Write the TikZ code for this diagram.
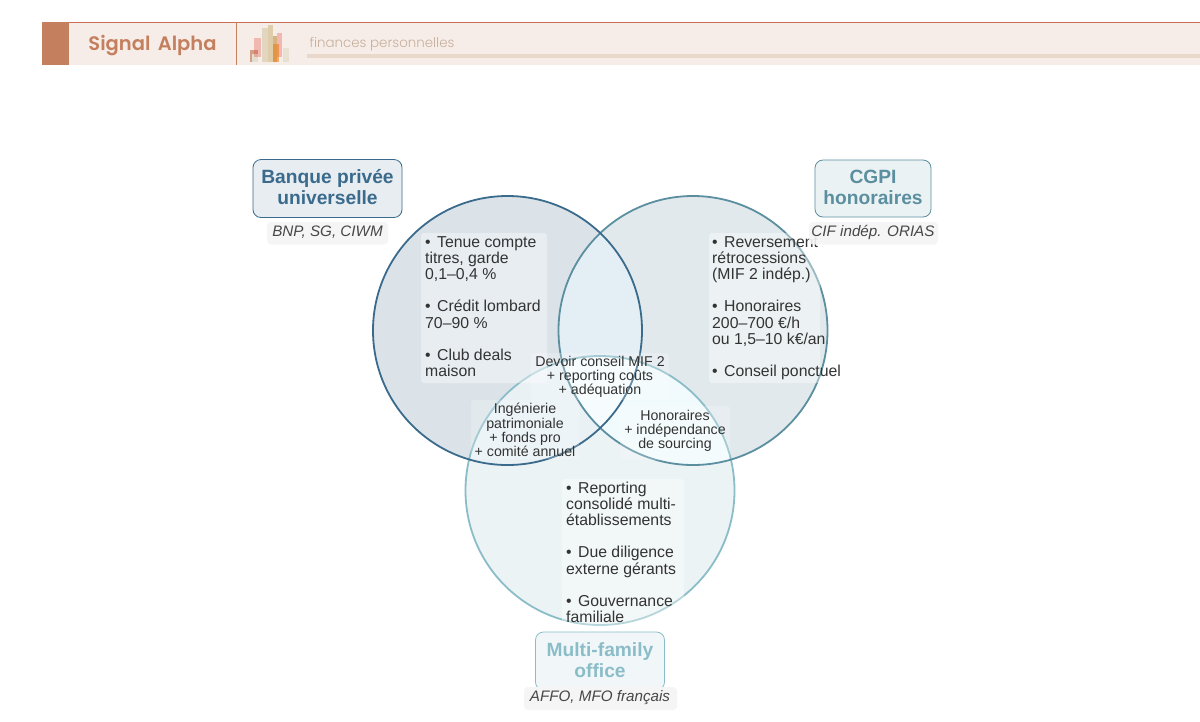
\documentclass[tikz,border=0pt]{standalone}
\usepackage{fontspec}
\setmainfont{Liberation Sans}
\newfontfamily\popp{Poppins SemiBold}[WordSpace=1.6]
\newfontfamily\poppl{Poppins Light}
\usetikzlibrary{calc}
\definecolor{cA}{HTML}{3A6B8C}
\definecolor{cB}{HTML}{5B8FA0}
\definecolor{cC}{HTML}{8BBDC8}
\definecolor{hdr}{HTML}{C47F5E}
\definecolor{hbg}{HTML}{F7EDE8}
\definecolor{txt}{HTML}{333333}
\definecolor{rA}{HTML}{DBE3E9}
\definecolor{rB}{HTML}{E1E9EC}
\definecolor{rC}{HTML}{EBF3F5}
\definecolor{rAB}{HTML}{E3EEF5}
\definecolor{rAC}{HTML}{E9F1F5}
\definecolor{rBC}{HTML}{F1FAFC}
\definecolor{rABC}{HTML}{F6FCFE}
\definecolor{tagc}{RGB}{198,176,156}
\definecolor{barc}{RGB}{232,217,202}
\definecolor{lg1}{RGB}{226,222,208}
\definecolor{lg2}{RGB}{226,214,192}
\definecolor{lg3}{RGB}{222,204,170}
\definecolor{lg4}{RGB}{214,180,130}
\definecolor{lg5}{RGB}{232,224,208}
\newcommand{\bul}{•\hspace{2pt}\space}
\tikzset{
 x=1pt,y=-1pt,
 tbox/.style={fill=white,fill opacity=.38,rounded corners=3pt,draw=none},
 mbox/.style={fill=white,fill opacity=.22,rounded corners=3pt,draw=none},
 ttl/.style={align=center,inner sep=0pt,font=\fontsize{19.2}{21}\selectfont\bfseries},
 tbx/.style={rounded corners=8pt,line width=.8pt},
 lst/.style={anchor=north west,align=left,inner sep=0pt,text=txt,font=\fontsize{15.8}{16.2}\selectfont},
 mid/.style={align=center,inner sep=0pt,text=txt,font=\fontsize{14.2}{14.2}\selectfont},
 sub/.style={inner sep=0pt,text=black!72,font=\fontsize{15.2}{16}\selectfont\itshape},
 subbg/.style={fill=black!4,rounded corners=4pt},
}
\begin{document}
\begin{tikzpicture}
\useasboundingbox (0,0) rectangle (1200,721);
\fill[white] (0,0) rectangle (1200,721);
% header
\fill[hbg] (42,22) rectangle (1200,64.5);
\draw[hdr!85!red,line width=.8pt] (42,22) -- (1200,22);
\fill[hdr] (42,22) rectangle (68.5,64.5);
\draw[hdr,line width=.8pt] (236.5,22) -- (236.5,64.5);
\node[inner sep=0pt,text=hdr,font=\popp\fontsize{19.5}{22}\selectfont] (brand) at (152.5,45.5) {Signal Alpha};
\node[inner sep=0pt,anchor=west,text=tagc,font=\poppl\fontsize{13.4}{16}\selectfont] (tag) at (309.5,44.5) {finances personnelles};
\fill[barc] (307,54) rectangle (1200,58);
% logo
\fill[hdr,opacity=.7] (250,50) rectangle (258,62);
\fill[lg1] (251.5,54) rectangle (258,62);
\fill[red!50!hdr,opacity=.3] (254,38) rectangle (261,57);
\fill[lg2] (262,28) rectangle (268,62);
\fill[lg3] (268,25) rectangle (273,62);
\fill[lg4] (273,36) rectangle (277,62);
\fill[red!50!hdr,opacity=.3] (277,33) rectangle (282,57);
\fill[orange!70!hdr,opacity=.6] (273,44) rectangle (279,62);
\fill[lg5] (283,48) rectangle (289,62);
% venn regions
\coordinate (ca) at (507.5,330.5);
\coordinate (cb) at (693,330.5);
\coordinate (cc) at (600,490.5);
\def\R{134.5}
\fill[rA] (ca) circle (\R);
\fill[rB] (cb) circle (\R);
\fill[rC] (cc) circle (\R);
\begin{scope}\clip (ca) circle (\R); \fill[rAB] (cb) circle (\R); \end{scope}
\begin{scope}\clip (ca) circle (\R); \fill[rAC] (cc) circle (\R); \end{scope}
\begin{scope}\clip (cb) circle (\R); \fill[rBC] (cc) circle (\R); \end{scope}
\begin{scope}\clip (ca) circle (\R); \clip (cb) circle (\R); \fill[rABC] (cc) circle (\R); \end{scope}
\draw[cC,line width=1.8pt] (cc) circle (\R);
\draw[cB,line width=1.8pt] (cb) circle (\R);
\draw[cA,line width=1.8pt] (ca) circle (\R);
% text backgrounds
\path[tbox] (421,233) rectangle (547,383);
\path[tbox] (709,233) rectangle (820,383);
\path[tbox] (562,479) rectangle (684,626);
\path[mbox] (531,353) rectangle (669,400);
\path[mbox] (471,400) rectangle (579,459);
\path[mbox] (620,406) rectangle (730,460);
% lists
\node[lst] (la) at (425,236) {\bul Tenue compte\\titres, garde\\0,1–0,4 \%\\[16.2pt]\bul Crédit lombard\\70–90 \%\\[16.2pt]\bul Club deals\\maison};
\node[lst] (lb) at (712,236) {\bul Reversement\\rétrocessions\\(MIF 2 indép.)\\[16.2pt]\bul Honoraires\\200–700 €/h\\ou 1,5–10 k€/an\\[16.2pt]\bul Conseil ponctuel};
\node[lst] (lc) at (566,481.5) {\bul Reporting\\consolidé multi-\\établissements\\[16.2pt]\bul Due diligence\\externe gérants\\[16.2pt]\bul Gouvernance\\familiale};
\node[mid] (mabc) at (600,377) {Devoir conseil MIF 2\\+ reporting coûts\\+ adéquation};
\node[mid] (mac) at (525,430) {Ingénierie\\patrimoniale\\+ fonds pro\\+ comité annuel};
\node[mid] (mbc) at (675,431) {Honoraires\\+ indépendance\\de sourcing};
% titles
\node[tbx,draw=cA,fill=cA!12!white,minimum width=149pt,minimum height=58pt] (ba) at (327.5,188.5) {};
\node[ttl,text=cA] at (327.5,187.5) {Banque privée\\universelle};
\node[tbx,draw=cB,fill=cB!12!white,minimum width=116pt,minimum height=57pt] (bb) at (873,188.5) {};
\node[ttl,text=cB] at (873,187) {CGPI\\honoraires};
\node[tbx,draw=cC,fill=cC!12!white,minimum width=129pt,minimum height=58pt] (bc) at (600,661) {};
\node[ttl,text=cC] at (600,660.5) {Multi-family\\office};
\path[subbg] (267,222) rectangle (388,244.5);
\node[sub] (sa) at (327.5,232) {BNP, SG, CIWM};
\path[subbg,opacity=.9] (809,222) rectangle (938,244.5);
\node[sub] (sb) at (873,232.5) {CIF indép. ORIAS};
\path[subbg] (524,687) rectangle (677,710);
\node[sub] (sc) at (600,697.5) {AFFO, MFO français};
\end{tikzpicture}
\end{document}
